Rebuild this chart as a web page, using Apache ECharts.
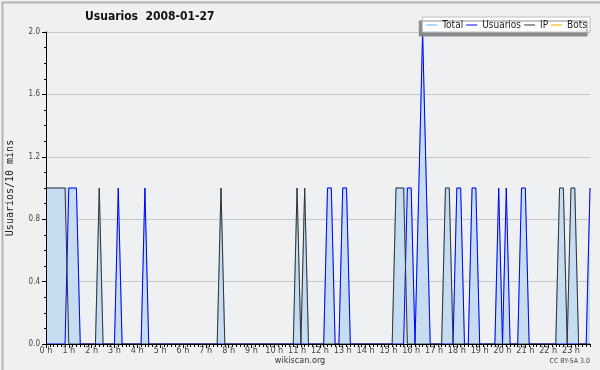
<!DOCTYPE html>
<html>
<head>
<meta charset="utf-8">
<script src="https://cdn.jsdelivr.net/npm/echarts@6/dist/echarts.min.js"></script>
<style>
html,body{margin:0;padding:0;background:#f0f0f0;}
#c{width:600px;height:370px;}
</style>
</head>
<body>
<div id="c"></div>
<script>
// 10-minute slots, 0:00 .. 23:50 (144 slots)
const hourLabels = ['0 h','1 h','2 h','3 h','4 h','5 h','6 h','7 h','8 h','9 h','10 h','11 h',
  '12 h','13 h','14 h','15 h','16 h','17 h','18 h','19 h','20 h','21 h','22 h','23 h'];

const usuarios = [
  0,0,0,0,0,0,1,1,1,0,0,0,
  0,0,0,0,0,0,0,1,0,0,0,0,
  0,0,1,0,0,0,0,0,0,0,0,0,
  0,0,0,0,0,0,0,0,0,0,0,0,
  0,0,0,0,0,0,0,0,0,0,0,0,
  0,0,0,0,0,0,0,0,0,0,0,0,
  0,0,1,1,0,0,1,1,0,0,0,0,
  0,0,0,0,0,0,0,0,0,0,0,1,
  1,0,1,2,1,0,0,0,0,0,0,0,
  1,1,0,0,1,1,0,0,0,0,0,1,
  0,1,0,0,0,1,1,0,0,0,0,0,
  0,0,0,0,0,0,0,0,0,0,0,1
];
const ip = [
  1,1,1,1,1,1,0,0,0,0,0,0,
  0,0,1,0,0,0,0,0,0,0,0,0,
  0,0,0,0,0,0,0,0,0,0,0,0,
  0,0,0,0,0,0,0,0,0,0,1,0,
  0,0,0,0,0,0,0,0,0,0,0,0,
  0,0,0,0,0,0,1,0,1,0,0,0,
  0,0,0,0,0,0,0,0,0,0,0,0,
  0,0,0,0,0,0,0,0,1,1,1,0,
  0,0,0,0,0,0,0,0,0,1,1,0,
  0,0,0,0,0,0,0,0,0,0,0,0,
  0,0,0,0,0,0,0,0,0,0,0,0,
  0,0,0,1,1,0,1,1,0,0,0,0
];
const total = [
  1,1,1,1,1,1,1,1,1,0,0,0,
  0,0,1,0,0,0,0,1,0,0,0,0,
  0,0,1,0,0,0,0,0,0,0,0,0,
  0,0,0,0,0,0,0,0,0,0,1,0,
  0,0,0,0,0,0,0,0,0,0,0,0,
  0,0,0,0,0,0,1,0,1,0,0,0,
  0,0,1,1,0,0,1,1,0,0,0,0,
  0,0,0,0,0,0,0,0,1,1,1,1,
  1,0,1,2,1,0,0,0,0,1,1,0,
  1,1,0,0,1,1,0,0,0,0,0,1,
  0,1,0,0,0,1,1,0,0,0,0,0,
  0,0,0,1,1,0,1,1,0,0,0,1
];
const bots = [];

const slots = [];
for (let h = 0; h < 24; h++) for (let m = 0; m < 6; m++) slots.push(h + ':' + m + '0');

const FONT = '"DejaVu Sans Condensed","DejaVu Sans",sans-serif';
const chart = echarts.init(document.getElementById('c'), null, {renderer:'canvas'});
chart.setOption({
  backgroundColor: '#f0f0f0',
  animation: false,
  title: {
    text: 'Usuarios  2008-01-27',
    left: 85, top: 11, padding: 0,
    textStyle: {fontFamily: FONT, fontSize: 12, fontWeight: 'bold', color: '#111'}
  },
  legend: {
    right: 10, top: 17,
    padding: [3, 3, 2, 4],
    itemGap: 3, itemWidth: 11, itemHeight: 1,
    icon: 'rect',
    backgroundColor: '#ffffff', borderColor: '#c0c0c0', borderWidth: 1,
    shadowColor: '#8a8a8a', shadowOffsetX: -3, shadowOffsetY: 4, shadowBlur: 0,
    textStyle: {fontFamily: FONT, fontSize: 10, lineHeight: 10, color: '#222'},
    data: [
      {name: 'Total', itemStyle: {color: '#5ab4f0'}},
      {name: 'Usuarios', itemStyle: {color: '#0000ff'}},
      {name: 'IP', itemStyle: {color: '#333333'}},
      {name: 'Bots', itemStyle: {color: '#ffa500'}}
    ]
  },
  grid: {left: 46, right: 10, top: 32, bottom: 26, show: true, backgroundColor: '#eef0f2', borderWidth: 0,
    containLabel: false, outerBoundsMode: 'none'},
  xAxis: [{
    type: 'category', data: slots, boundaryGap: false, z: 10, offset: 0,
    axisLine: {lineStyle: {color: '#000', width: 1}},
    axisTick: {interval: 0, length: 3, lineStyle: {color: '#000'}},
    axisLabel: {
      interval: 5, margin: 2, fontFamily: FONT, fontSize: 9, color: '#444',
      formatter: (v, i) => hourLabels[Math.floor(i / 6)]
    },
    splitLine: {show: false}
  }, {
    type: 'category', data: slots, boundaryGap: false, position: 'bottom', z: 10, offset: 0,
    axisLine: {show: false},
    axisTick: {interval: 5, length: 4, lineStyle: {color: '#000'}},
    axisLabel: {show: false}
  }],
  yAxis: [{
    type: 'value', min: 0, max: 2, interval: 0.4, z: 0, offset: 0,
    axisLine: {show: false}, axisTick: {show: false}, axisLabel: {show: false},
    splitLine: {lineStyle: {color: '#c8c8c8', width: 1}}
  }, {
    type: 'value', min: 0, max: 2, interval: 0.4, position: 'left', z: 10, offset: 0,
    name: 'Usuarios/10 mins', nameLocation: 'middle', nameGap: 31, nameRotate: 90,
    nameTextStyle: {fontFamily: '"DejaVu Sans Mono",monospace', fontSize: 10, color: '#222'},
    axisLine: {show: true, lineStyle: {color: '#000'}},
    axisTick: {show: true, length: 4, lineStyle: {color: '#000'}},
    minorTick: {show: true, splitNumber: 4, length: 2, lineStyle: {color: '#000'}},
    axisLabel: {margin: 6, fontFamily: FONT, fontSize: 8, color: '#444', formatter: v => v.toFixed(1)},
    splitLine: {show: false}
  }],
  series: [
    {name: 'Total', type: 'line', data: total, symbol: 'none',
      lineStyle: {color: '#9cc6ea', width: 1}, itemStyle: {color: '#5ab4f0'},
      areaStyle: {color: '#c6dcf0', opacity: 1}},
    {name: 'Usuarios', type: 'line', data: usuarios, symbol: 'none',
      lineStyle: {color: '#0000ff', width: 1}, itemStyle: {color: '#0000ff'}},
    {name: 'IP', type: 'line', data: ip, symbol: 'none',
      lineStyle: {color: '#333333', width: 1}, itemStyle: {color: '#333333'}},
    {name: 'Bots', type: 'line', data: bots, symbol: 'none',
      lineStyle: {color: '#ffa500', width: 1}, itemStyle: {color: '#ffa500'}}
  ],
  graphic: [
    {type: 'rect', left: 0, top: 0, shape: {width: 599, height: 369}, silent: true,
      style: {fill: 'none', stroke: '#b4b4b4', lineWidth: 2}},
    {type: 'text', left: 'center', top: 356,
      style: {text: 'wikiscan.org', font: '9px ' + FONT, fill: '#333'}},
    {type: 'text', right: 10, top: 358,
      style: {text: 'CC BY-SA 3.0', font: '7px ' + FONT, fill: '#444'}}
  ]
});
</script>
</body>
</html>
